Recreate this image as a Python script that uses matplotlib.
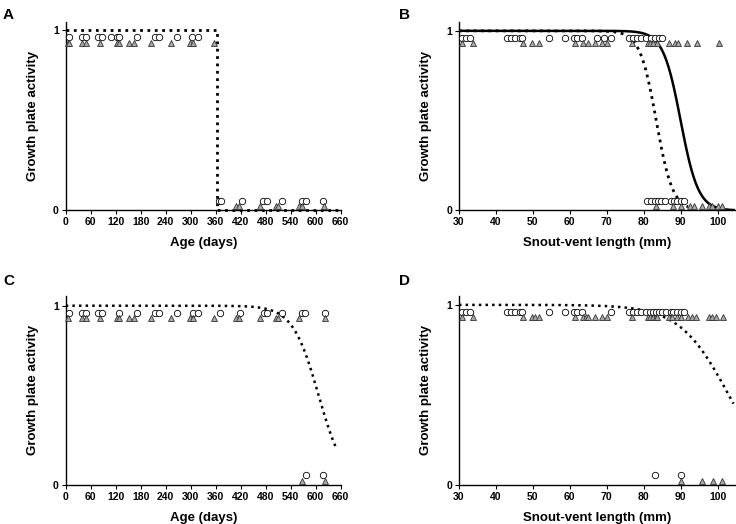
import numpy as np
from matplotlib import pyplot as plt

plt.rcParams['font.family'] = ['Liberation Sans', 'DejaVu Sans']

# ---- Panel A / C : age (days) ----
a_top_circ = [8, 40, 48, 77, 86, 109, 122, 129, 170, 214, 223, 266, 303, 318]
a_top_tri = [6, 8, 40, 48, 82, 124, 129, 153, 164, 205, 252, 298, 305, 357]
a_bot_circ = [369, 373, 424, 474, 482, 518, 568, 576, 618]
a_bot_tri = [409, 415, 466, 505, 510, 561, 566, 620]
a_step_x = [0, 364, 364, 660]
a_step_y = [1, 1, 0.005, 0.005]

c_top_circ = [8, 38, 48, 77, 86, 129, 170, 214, 223, 266, 305, 318, 370, 419,
              477, 482, 520, 568, 574, 622]
c_top_tri = [6, 38, 48, 82, 124, 129, 153, 164, 205, 252, 298, 305, 357, 409,
             415, 466, 505, 510, 561, 622]
c_bot_circ = [576, 618]
c_bot_tri = [566, 622]
c_fit = (607, 0.032)   # midpoint, slope of logistic fit
c_fit_range = (0, 650)

# ---- Panel B / D : snout-vent length (mm) ----
b_top_circ = [30.9, 31.8, 32.9, 43.0, 44.1, 45.2, 46.4, 47.0, 54.5, 58.6, 61.1,
              62.0, 63.2, 67.3, 69.3, 71.1, 76.1, 77.1, 78.2, 79.4, 80.5, 82.1,
              83.0, 84.1, 85.0]
b_top_tri = [30.7, 33.9, 47.2, 49.9, 51.6, 61.5, 63.6, 65.0, 66.8, 68.6, 70.0,
             76.8, 81.2, 81.8, 82.5, 83.6, 86.8, 88.6, 89.3, 91.8, 94.4, 100.3]
b_bot_circ = [80.9, 82.1, 83.0, 83.9, 84.8, 85.7, 87.3, 88.2, 89.1, 90.0, 90.9]
b_bot_tri = [83.2, 87.9, 90.2, 92.5, 93.6, 95.9, 97.7, 98.6, 100.0, 101.2]
b_fit_solid = (90.0, 0.42)
b_fit_dot = (83.4, 0.45)

d_top_circ = [30.9, 31.8, 32.9, 43.0, 44.1, 45.2, 46.4, 47.0, 54.5, 58.6, 61.1,
              62.0, 63.2, 71.2, 76.1, 77.1, 78.2, 79.4, 80.5, 81.6, 82.5, 83.2,
              84.1, 85.0, 85.9, 87.3, 88.0, 89.1, 90.0, 90.9]
d_top_tri = [30.7, 33.9, 47.2, 49.9, 50.7, 51.6, 61.5, 63.6, 64.3, 65.0, 66.8,
             68.6, 70.0, 76.8, 81.2, 81.8, 82.5, 83.2, 83.6, 86.8, 87.7, 89.1,
             90.0, 92.1, 93.0, 94.1, 97.7, 98.6, 99.5, 101.4]
d_bot_circ = [83.0, 90.2]
d_bot_tri = [90.2, 95.9, 98.8, 101.2]
d_fit = (103.0, 0.15)

age_ticks = range(0, 661, 60)
svl_ticks = range(30, 101, 10)


def logistic(x, fit):
    x0, b = fit
    return 1 / (1 + np.exp(b * (x - x0)))


def points(ax, top_c, top_t, bot_c, bot_t, yc=(0.96, 0.93, 0.055, 0.025)):
    ax.plot(top_c, [yc[0]] * len(top_c), "o", mfc="white", mec="black",
            ms=4.6, mew=0.6, clip_on=False, zorder=3)
    ax.plot(top_t, [yc[1]] * len(top_t), "^", mfc="#a8a8a8", mec="#333333",
            ms=4.3, mew=0.6, clip_on=False, zorder=3)
    ax.plot(bot_c, [yc[2]] * len(bot_c), "o", mfc="white", mec="black",
            ms=4.6, mew=0.6, clip_on=False, zorder=3)
    ax.plot(bot_t, [yc[3]] * len(bot_t), "^", mfc="#a8a8a8", mec="#333333",
            ms=4.3, mew=0.6, clip_on=False, zorder=3)


def style(ax, xlabel, xticks, xlim, ytop):
    ax.set_xlim(*xlim)
    ax.set_ylim(0, ytop)
    ax.set_xticks(list(xticks))
    ax.set_yticks([0, 1])
    ax.spines["top"].set_visible(False)
    ax.spines["right"].set_visible(False)
    ax.spines["left"].set_linewidth(1.0)
    ax.spines["bottom"].set_linewidth(1.0)
    ax.tick_params(length=3, width=0.8, labelsize=7.5, pad=2)
    for lab in ax.get_xticklabels() + ax.get_yticklabels():
        lab.set_fontweight("bold")
    ax.set_xlabel(xlabel, fontsize=9.5, fontweight="bold", labelpad=7)
    ax.set_ylabel("Growth plate activity", fontsize=9.5, fontweight="bold",
                  labelpad=10)


fig = plt.figure(figsize=(7.36, 5.24), dpi=100)
axA = fig.add_axes([0.0893, 0.5983, 0.3736, 0.360])
axB = fig.add_axes([0.6236, 0.5983, 0.375, 0.360])
axC = fig.add_axes([0.0893, 0.0744, 0.3736, 0.361])
axD = fig.add_axes([0.6236, 0.0744, 0.375, 0.361])

# A
axA.plot(a_step_x, a_step_y, color="black", linestyle=":", lw=2, clip_on=False)
points(axA, a_top_circ, a_top_tri, a_bot_circ, a_bot_tri)
style(axA, "Age (days)", age_ticks, (0, 660), 1.045)

# B
xs = np.linspace(30, 104.7, 300)
axB.plot(xs, logistic(xs, b_fit_solid), color="black", lw=1.8)
xd = np.linspace(30, 92, 300)
axB.plot(xd, logistic(xd, b_fit_dot), color="black", linestyle=":", lw=2)
points(axB, b_top_circ, b_top_tri, b_bot_circ, b_bot_tri)
style(axB, "Snout-vent length (mm)", svl_ticks, (30, 104.7), 1.05)

# C
xc = np.linspace(*c_fit_range, 300)
axC.plot(xc, logistic(xc, c_fit), color="black", linestyle=":", lw=1.8)
points(axC, c_top_circ, c_top_tri, c_bot_circ, c_bot_tri)
style(axC, "Age (days)", age_ticks, (0, 660), 1.055)

# D
xdd = np.linspace(30, 104.3, 300)
axD.plot(xdd, logistic(xdd, d_fit), color="black", linestyle=":", lw=1.8)
points(axD, d_top_circ, d_top_tri, d_bot_circ, d_bot_tri)
style(axD, "Snout-vent length (mm)", svl_ticks, (30, 104.7), 1.05)

fig.text(0.004, 0.985, "A", fontsize=11, fontweight="bold", va="top")
fig.text(0.542, 0.985, "B", fontsize=11, fontweight="bold", va="top")
fig.text(0.004, 0.478, "C", fontsize=11, fontweight="bold", va="top")
fig.text(0.542, 0.478, "D", fontsize=11, fontweight="bold", va="top")

plt.savefig("out.png", dpi=100)
